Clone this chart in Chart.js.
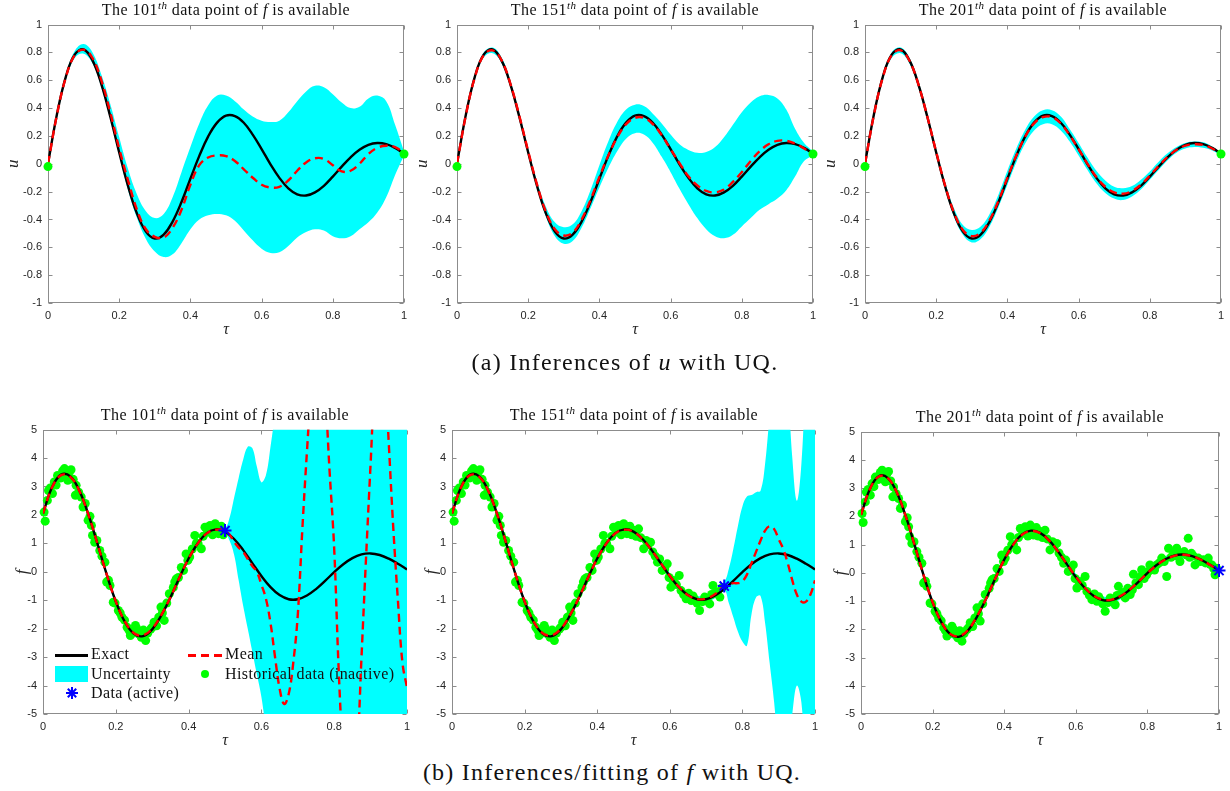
<!DOCTYPE html>
<html><head><meta charset="utf-8">
<script src="https://cdn.jsdelivr.net/npm/chart.js@4.4.1/dist/chart.umd.min.js"></script>
<style>
html,body{margin:0;padding:0;background:#fff;overflow:hidden;width:1230px;height:791px;}
#wrap{position:relative;width:1230px;height:791px;background:#fff;}
canvas{position:absolute;}
.ttl{position:absolute;font-family:"Liberation Serif",serif;font-size:16px;letter-spacing:0.45px;color:#111;white-space:nowrap;transform:translate(-50%,-50%);}
.ttl sup{font-size:11px;font-style:italic;line-height:0;}
.cap{position:absolute;font-family:"Liberation Serif",serif;font-size:24px;letter-spacing:1.25px;color:#111;white-space:nowrap;transform:translate(-50%,-50%);}
.lt{position:absolute;font-family:"Liberation Serif",serif;font-size:16px;letter-spacing:0.4px;color:#111;white-space:nowrap;transform:translateY(-50%);}
.sym{position:absolute;}
</style>
</head><body><div id="wrap"></div>
<script>
// ---------- data ----------
const tauGrid = [0,0.025,0.05,0.075,0.1,0.125,0.15,0.175,0.2,0.225,0.25,0.275,0.3,0.325,0.35,0.375,0.4,0.425,0.45,0.475,0.5,0.525,0.55,0.575,0.6,0.625,0.65,0.675,0.7,0.725,0.75,0.775,0.8,0.825,0.85,0.875,0.9,0.925,0.95,0.975,1];

const uExact = [0,0.354,0.625,0.784,0.821,0.743,0.571,0.338,0.081,-0.161,-0.358,-0.487,-0.537,-0.509,-0.415,-0.275,-0.107,0.057,0.197,0.296,0.346,0.343,0.295,0.210,0.106,-0.004,-0.101,-0.176,-0.219,-0.228,-0.205,-0.158,-0.092,-0.020,0.047,0.101,0.136,0.149,0.141,0.114,0.074];

const uMean101  = [0,0.35,0.62,0.78,0.82,0.76,0.60,0.37,0.11,-0.12,-0.33,-0.47,-0.525,-0.53,-0.46,-0.33,-0.15,-0.01,0.045,0.06,0.055,0.02,-0.04,-0.10,-0.15,-0.17,-0.165,-0.12,-0.05,0.01,0.04,0.035,-0.01,-0.055,-0.05,0.0,0.07,0.115,0.13,0.12,0.08];
const uUpper101 = [0.0,0.37,0.64,0.81,0.86,0.80,0.64,0.43,0.19,-0.04,-0.22,-0.34,-0.39,-0.36,-0.24,-0.06,0.12,0.29,0.42,0.49,0.49,0.45,0.39,0.34,0.31,0.30,0.31,0.37,0.45,0.52,0.56,0.55,0.50,0.44,0.40,0.41,0.47,0.49,0.45,0.28,0.09];
const uLower101 = [0.0,0.33,0.60,0.76,0.79,0.72,0.55,0.32,0.06,-0.19,-0.39,-0.54,-0.63,-0.67,-0.65,-0.57,-0.47,-0.40,-0.37,-0.36,-0.37,-0.41,-0.48,-0.55,-0.61,-0.64,-0.635,-0.59,-0.53,-0.49,-0.47,-0.48,-0.52,-0.535,-0.52,-0.47,-0.42,-0.35,-0.24,-0.08,0.06];

const uMean151  = [0,0.35,0.62,0.78,0.815,0.745,0.575,0.345,0.09,-0.15,-0.345,-0.47,-0.515,-0.495,-0.40,-0.26,-0.095,0.06,0.19,0.285,0.33,0.33,0.285,0.205,0.105,0.005,-0.09,-0.155,-0.195,-0.205,-0.185,-0.13,-0.06,0.02,0.09,0.14,0.165,0.165,0.145,0.11,0.07];
const uUpper151 = [0.0,0.36,0.635,0.80,0.835,0.765,0.595,0.365,0.11,-0.125,-0.31,-0.42,-0.455,-0.435,-0.34,-0.19,-0.01,0.16,0.30,0.39,0.425,0.415,0.36,0.29,0.21,0.14,0.10,0.08,0.085,0.12,0.19,0.28,0.37,0.44,0.485,0.495,0.47,0.39,0.25,0.15,0.09];
const uLower151 = [0.0,0.34,0.61,0.765,0.795,0.725,0.555,0.325,0.07,-0.175,-0.38,-0.52,-0.575,-0.555,-0.46,-0.32,-0.17,-0.03,0.09,0.18,0.22,0.21,0.15,0.05,-0.06,-0.18,-0.29,-0.39,-0.47,-0.52,-0.535,-0.51,-0.45,-0.39,-0.33,-0.29,-0.25,-0.19,-0.09,0.02,0.06];

const uMean201  = [0,0.35,0.62,0.78,0.815,0.74,0.57,0.34,0.085,-0.155,-0.35,-0.475,-0.52,-0.495,-0.405,-0.265,-0.10,0.06,0.195,0.29,0.335,0.335,0.29,0.205,0.105,0.0,-0.095,-0.165,-0.205,-0.215,-0.195,-0.15,-0.085,-0.015,0.05,0.10,0.13,0.14,0.135,0.11,0.07];
const uUpper201 = [0.0,0.365,0.64,0.80,0.835,0.76,0.59,0.36,0.105,-0.13,-0.32,-0.44,-0.475,-0.45,-0.36,-0.22,-0.05,0.11,0.245,0.34,0.385,0.385,0.34,0.25,0.15,0.045,-0.05,-0.12,-0.165,-0.175,-0.16,-0.115,-0.055,0.015,0.075,0.12,0.15,0.16,0.155,0.125,0.08];
const uLower201 = [0.0,0.335,0.60,0.76,0.795,0.72,0.55,0.32,0.065,-0.18,-0.38,-0.51,-0.565,-0.54,-0.45,-0.31,-0.15,0.01,0.145,0.24,0.285,0.285,0.24,0.16,0.06,-0.045,-0.14,-0.21,-0.25,-0.26,-0.235,-0.185,-0.115,-0.045,0.025,0.08,0.11,0.12,0.115,0.095,0.06];

const uDataTau = [0, 1];
const uDataVal = [-0.02, 0.07];

const fExact = [2.052,2.980,3.418,3.356,2.847,2.003,0.970,-0.094,-1.045,-1.762,-2.179,-2.260,-2.023,-1.534,-0.903,-0.198,0.466,0.997,1.359,1.492,1.414,1.154,0.762,0.306,-0.148,-0.539,-0.820,-0.965,-0.965,-0.834,-0.607,-0.319,-0.012,0.265,0.480,0.611,0.646,0.591,0.462,0.283,0.083];

const tauF101 = [0,0.025,0.05,0.075,0.1,0.125,0.15,0.175,0.2,0.225,0.25,0.275,0.3,0.325,0.35,0.375,0.4,0.425,0.45,0.475,0.5,
  0.5125,0.525,0.5375,0.55,0.5625,0.575,0.5875,0.6,0.6125,0.625,0.6375,0.65,0.6625,0.675,0.6875,0.7,0.7125,0.725,0.7375,0.75,
  0.7625,0.775,0.7875,0.8,0.8125,0.825,0.8375,0.85,0.8625,0.875,0.8875,0.9,0.9125,0.925,0.9375,0.95,0.9625,0.975,0.9875,1];
const fMean101 = [2.05,2.97,3.40,3.34,2.84,2.00,0.97,-0.09,-1.04,-1.75,-2.16,-2.23,-2.00,-1.52,-0.90,-0.20,0.46,0.99,1.35,1.48,1.45,
  1.30,1.05,0.85,0.70,0.45,0.20,0.0,-0.45,-0.95,-1.8,-3.0,-4.1,-4.65,-4.3,-3.2,-1.5,1.5,4.2,6.5,7.8,
  7.5,6.2,3.5,0.8,-3.5,-6.5,-8.0,-8.0,-6.5,-3.0,0.5,3.8,7.0,8.5,7.5,4.5,1.5,-1.0,-3.2,-4.07];
const fUpper101 = [2.15,3.08,3.52,3.46,2.95,2.10,1.07,0.01,-0.94,-1.65,-2.05,-2.12,-1.89,-1.41,-0.80,-0.10,0.56,1.09,1.45,1.58,1.55,
  1.9,2.6,3.3,3.95,4.4,4.35,3.7,3.15,3.4,4.4,5.6,7,12,12,12,12,12,12,12,12,
  12,12,12,12,12,12,12,12,12,12,12,12,12,12,12,12,12,12,12,12];
const fLower101 = [1.95,2.87,3.30,3.24,2.74,1.90,0.87,-0.19,-1.14,-1.85,-2.27,-2.34,-2.11,-1.62,-1.00,-0.30,0.36,0.89,1.25,1.38,1.35,
  1.1,0.6,-0.3,-1.2,-2.0,-2.8,-3.6,-4.4,-5.6,-7,-12,-12,-12,-12,-12,-12,-12,-12,-12,-12,
  -12,-12,-12,-12,-12,-12,-12,-12,-12,-12,-12,-12,-12,-12,-12,-12,-12,-12,-12,-12];

const tauF151 = [0,0.025,0.05,0.075,0.1,0.125,0.15,0.175,0.2,0.225,0.25,0.275,0.3,0.325,0.35,0.375,0.4,0.425,0.45,0.475,0.5,0.525,0.55,0.575,0.6,0.625,0.65,0.675,0.7,0.725,0.75,
  0.7625,0.775,0.7875,0.8,0.8125,0.825,0.8375,0.85,0.8625,0.875,0.8875,0.9,0.9125,0.925,0.9375,0.95,0.9625,0.975,0.9875,1];
const fMean151 = [2.05,2.97,3.40,3.34,2.84,2.00,0.97,-0.09,-1.04,-1.75,-2.16,-2.23,-2.00,-1.52,-0.90,-0.20,0.46,0.99,1.35,1.48,1.41,1.15,0.76,0.31,-0.14,-0.53,-0.82,-0.96,-0.94,-0.78,-0.50,
  -0.45,-0.40,-0.40,-0.33,-0.10,0.30,0.70,1.10,1.45,1.60,1.50,1.15,0.80,0.30,-0.30,-0.80,-1.05,-1.05,-0.80,-0.30];
const fUpper151 = [2.15,3.08,3.51,3.45,2.95,2.10,1.07,0.01,-0.94,-1.65,-2.05,-2.12,-1.89,-1.41,-0.80,-0.10,0.56,1.09,1.45,1.58,1.51,1.25,0.86,0.41,-0.04,-0.43,-0.71,-0.85,-0.82,-0.64,-0.35,
  0.10,0.80,1.60,2.30,2.65,2.70,2.80,2.85,3.80,5.50,7.0,8.0,8.0,6.5,4.0,2.5,3.8,7.0,9.0,10.0];
const fLower151 = [1.95,2.87,3.30,3.24,2.74,1.90,0.87,-0.19,-1.14,-1.85,-2.27,-2.34,-2.11,-1.62,-1.00,-0.30,0.36,0.89,1.25,1.38,1.31,1.05,0.66,0.21,-0.24,-0.63,-0.92,-1.07,-1.06,-0.92,-0.65,
  -1.10,-1.60,-2.10,-2.45,-2.60,-1.50,-0.90,-0.85,-1.80,-3.20,-4.60,-6.50,-8.0,-6.5,-5.0,-4.0,-4.6,-7.0,-9.0,-10.0];

const fMean201  = [2.05,2.97,3.41,3.35,2.85,2.00,0.97,-0.09,-1.04,-1.75,-2.17,-2.24,-2.01,-1.52,-0.90,-0.20,0.46,0.99,1.35,1.48,1.41,1.15,0.76,0.31,-0.14,-0.53,-0.81,-0.95,-0.95,-0.82,-0.60,-0.31,-0.01,0.26,0.47,0.60,0.64,0.59,0.46,0.28,0.08];
const fUpper201 = [2.15,3.08,3.52,3.46,2.96,2.10,1.07,0.01,-0.94,-1.65,-2.06,-2.13,-1.90,-1.41,-0.80,-0.10,0.56,1.09,1.46,1.59,1.52,1.26,0.87,0.42,-0.03,-0.42,-0.70,-0.84,-0.83,-0.70,-0.48,-0.19,0.11,0.38,0.59,0.72,0.76,0.71,0.58,0.39,0.16];
const fLower201 = [1.95,2.86,3.30,3.24,2.74,1.90,0.87,-0.19,-1.14,-1.85,-2.28,-2.35,-2.12,-1.63,-1.00,-0.30,0.36,0.89,1.24,1.37,1.30,1.04,0.65,0.20,-0.25,-0.64,-0.92,-1.06,-1.07,-0.94,-0.72,-0.43,-0.13,0.14,0.35,0.48,0.52,0.47,0.34,0.17,0.0];

const histTau = [
  0.003,0.006,0.012,0.015,0.020,0.026,0.031,0.036,0.040,0.048,
  0.054,0.059,0.064,0.068,0.072,0.077,0.083,0.089,0.091,0.098,
  0.105,0.110,0.116,0.124,0.129,0.133,0.136,0.142,0.148,0.156,
  0.162,0.170,0.175,0.180,0.184,0.193,0.198,0.207,0.212,0.217,
  0.224,0.231,0.236,0.240,0.247,0.254,0.258,0.263,0.270,0.276,
  0.282,0.288,0.296,0.300,0.305,0.312,0.318,0.324,0.328,0.333,
  0.340,0.347,0.362,0.358,0.366,0.372,0.380,0.386,0.393,0.398,
  0.403,0.410,0.417,0.421,0.426,0.435,0.440,0.445,0.452,0.459,
  0.466,0.473,0.478,0.482,0.490,0.495,0.500,0.507,0.514,0.520,
  0.528,0.535,0.540,0.547,0.553,0.560,0.566,0.572,0.579,0.586,
  0.593,0.598,0.603,0.608,0.612,0.618,0.626,0.631,0.638,0.645,
  0.652,0.659,0.664,0.668,0.675,0.682,0.690,0.696,0.703,0.710,
  0.715,0.719,0.726,0.732,0.738,0.745,0.752,0.758,0.761,0.768,
  0.775,0.780,0.784,0.791,0.798,0.803,0.807,0.815,0.820,0.826,
  0.833,0.840,0.847,0.854,0.859,0.866,0.873,0.878,0.882,0.891,
  0.896,0.903,0.910,0.914,0.918,0.923,0.928,0.933,0.942,0.948,
  0.956,0.962,0.970,0.975,0.980,0.985,0.989,0.993];
const histF = [
  2.10,1.78,2.51,2.86,2.95,2.75,3.16,3.05,3.39,3.30,
  3.55,3.63,3.40,3.22,3.50,3.59,3.25,2.69,3.04,2.80,
  2.63,2.28,2.40,1.81,1.95,1.63,1.28,1.04,1.10,0.75,
  0.55,0.34,-0.36,-0.30,-0.48,-1.07,-1.10,-1.36,-1.45,-1.60,
  -1.70,-1.95,-2.05,-2.24,-2.15,-1.89,-2.00,-2.18,-2.30,-2.05,
  -2.42,-2.15,-2.01,-1.95,-1.77,-1.90,-1.60,-1.24,-1.45,-1.71,
  -1.10,-0.77,-0.36,-0.55,-0.25,-0.20,0.15,0.05,0.63,0.40,
  0.52,0.80,1.28,1.00,0.99,0.81,1.25,1.57,1.40,1.63,
  1.30,1.69,1.55,1.34,1.60,1.30,1.46,1.25,1.51,1.20,
  0.81,1.10,0.95,1.04,0.70,0.55,0.34,0.45,0.05,0.10,
  0.28,-0.20,-0.54,-0.30,-0.36,-0.45,-0.13,-0.66,-0.80,-0.95,
  -0.75,-1.01,-0.85,-0.95,-1.10,-1.36,-1.05,-0.89,-1.00,-1.13,
  -0.80,-0.48,-0.75,-0.70,-0.89,-0.55,-0.77,-0.60,-0.05,-0.35,
  -0.42,-0.15,0.11,-0.20,-0.07,0.05,0.28,0.15,0.10,0.28,
  0.35,0.52,0.40,-0.13,0.87,0.55,0.69,0.60,0.87,0.40,
  0.69,0.75,0.63,1.22,0.55,0.69,0.60,0.28,0.52,0.40,
  0.46,0.35,0.52,0.30,0.28,0.15,-0.07,0.16];

const activeTau = [0.5, 0.75, 1.0];
const activeF   = [1.45, -0.5, 0.08];

const xTicks = [0, 0.2, 0.4, 0.6, 0.8, 1];

// ---------- helpers ----------
const wrap = document.getElementById('wrap');
const pts = (t, v) => t.map((x, i) => ({x: x, y: v[i]}));
const fmt = v => String(Math.round(v * 100) / 100);
const CYAN = '#00ffff', GREEN = '#00ff00', RED = '#ff0000', BLUE = '#0000ff';

const boxPlugin = {
  id: 'mbox',
  beforeDatasetsDraw(chart) {
    const {ctx, chartArea: a, scales: {x, y}} = chart;
    ctx.save();
    ctx.strokeStyle = '#8c8c8c'; ctx.lineWidth = 1;
    const L = Math.round(a.left) + 0.5, R = Math.round(a.right) - 0.5;
    const T = Math.round(a.top) + 0.5, B = Math.round(a.bottom) - 0.5;
    ctx.strokeRect(L, T, R - L, B - T);
    ctx.beginPath();
    x.ticks.forEach(t => { const p = Math.round(x.getPixelForValue(t.value)) + 0.5;
      ctx.moveTo(p, B); ctx.lineTo(p, B - 4); ctx.moveTo(p, T); ctx.lineTo(p, T + 4); });
    y.ticks.forEach(t => { const p = Math.round(y.getPixelForValue(t.value)) + 0.5;
      ctx.moveTo(L, p); ctx.lineTo(L + 4, p); ctx.moveTo(R, p); ctx.lineTo(R - 4, p); });
    ctx.stroke();
    ctx.restore();
  }
};

function lineDS(data, color, dash, w) {
  return {data, borderColor: color, borderWidth: w || 2.4, borderDash: dash || [], pointRadius: 0,
          tension: 0.4, fill: false, showLine: true};
}
function bandDS(upper, lower) {
  return [
    {data: upper, borderColor: 'rgba(0,0,0,0)', borderWidth: 0, pointRadius: 0, tension: 0.4,
     backgroundColor: CYAN, fill: '+1', showLine: true},
    {data: lower, borderColor: 'rgba(0,0,0,0)', borderWidth: 0, pointRadius: 0, tension: 0.4,
     fill: false, showLine: true}
  ];
}
function dotDS(data, r) {
  return {data, showLine: false, pointRadius: r || 4.5, pointBackgroundColor: GREEN, pointBorderWidth: 0,
          pointBorderColor: GREEN, clip: false};
}
function starDS(data) {
  return {data, showLine: false, pointStyle: 'star', pointRadius: 6.5, pointBorderColor: BLUE,
          pointBorderWidth: 2, pointBackgroundColor: BLUE, clip: false};
}

function panel(area, W, ylab, ymin, ymax, ystep, datasets) {
  const PT = 10, PR = 12, H = 36;
  const cw = W + (area.r - area.l) + PR, ch = PT + (area.b - area.t) + H;
  const c = document.createElement('canvas');
  c.width = cw; c.height = ch;
  c.style.left = (area.l - W) + 'px'; c.style.top = (area.t - PT) + 'px';
  c.style.width = cw + 'px'; c.style.height = ch + 'px';
  wrap.appendChild(c);
  new Chart(c, {
    type: 'line',
    data: {datasets},
    options: {
      responsive: false, animation: false, devicePixelRatio: 1, events: [],
      layout: {padding: {left: 0, top: PT, right: PR, bottom: 0}},
      plugins: {legend: {display: false}, tooltip: {enabled: false}},
      scales: {
        x: {type: 'linear', min: 0, max: 1,
            grid: {display: false, drawTicks: false}, border: {display: false},
            afterBuildTicks: s => { s.ticks = xTicks.map(v => ({value: v})); },
            ticks: {padding: 6, color: '#262626', font: {family: 'Liberation Sans', size: 11},
                    callback: fmt, maxRotation: 0, autoSkip: false},
            title: {display: true, text: 'τ', color: '#262626', padding: 0,
                    font: {family: 'Liberation Serif', size: 16, style: 'italic'}},
            afterFit: s => { s.height = H; }},
        y: {type: 'linear', min: ymin, max: ymax,
            grid: {display: false, drawTicks: false}, border: {display: false},
            ticks: {stepSize: ystep, padding: 6, color: '#262626', font: {family: 'Liberation Sans', size: 11},
                    callback: fmt, autoSkip: false},
            title: {display: true, text: ylab, color: '#262626', padding: 0,
                    font: {family: 'Liberation Serif', size: 17, style: 'italic'}},
            afterFit: s => { s.width = W; }}
      }
    },
    plugins: [boxPlugin]
  });
}

function uPanel(area, mean, upper, lower) {
  panel(area, 45, 'u', -1, 1, 0.2, [
    dotDS(pts(uDataTau, uDataVal), 4.5),
    lineDS(pts(tauGrid, mean), RED, [8, 5]),
    lineDS(pts(tauGrid, uExact), '#000000'),
    ...bandDS(pts(tauGrid, upper), pts(tauGrid, lower))
  ]);
}
function fPanel(area, k, tau, mean, upper, lower) {
  const limit = activeTau[k];
  const ht = [], hv = [];
  histTau.forEach((t, i) => { if (t < limit) { ht.push(t); hv.push(histF[i]); } });
  panel(area, 31, 'f', -5, 5, 1, [
    starDS([{x: activeTau[k], y: activeF[k]}]),
    lineDS(pts(tau, mean), RED, [8, 5]),
    lineDS(pts(tauGrid, fExact), '#000000'),
    dotDS(pts(ht, hv), 4.5),
    ...bandDS(pts(tau, upper), pts(tau, lower))
  ]);
}

uPanel({l: 48, t: 22, r: 404, b: 303}, uMean101, uUpper101, uLower101);
uPanel({l: 457, t: 22, r: 813, b: 303}, uMean151, uUpper151, uLower151);
uPanel({l: 865, t: 22, r: 1221, b: 303}, uMean201, uUpper201, uLower201);
fPanel({l: 43, t: 427, r: 407, b: 714}, 0, tauF101, fMean101, fUpper101, fLower101);
fPanel({l: 452, t: 427, r: 815, b: 714}, 1, tauF151, fMean151, fUpper151, fLower151);
fPanel({l: 861, t: 429, r: 1219, b: 714}, 2, tauGrid, fMean201, fUpper201, fLower201);

// ---------- text ----------
function addText(cls, html, x, y) {
  const d = document.createElement('div');
  d.className = cls; d.innerHTML = html;
  d.style.left = x + 'px'; d.style.top = y + 'px';
  wrap.appendChild(d);
}
const titles = [['101', 226, 10], ['151', 635, 10], ['201', 1043, 10], ['101', 225, 415], ['151', 634, 415], ['201', 1040, 417]];
titles.forEach(([n, x, y]) => addText('ttl', 'The ' + n + '<sup>th</sup> data point of <i>f</i> is available', x, y));
addText('cap', '(a) Inferences of <i>u</i> with UQ.', 625, 362);
addText('cap', '(b) Inferences/fitting of <i>f</i> with UQ.', 612, 772);

// legend (panel b1)
function addSym(style) { const d = document.createElement('div'); d.className = 'sym'; Object.assign(d.style, style); wrap.appendChild(d); }
addSym({left: '55px', top: '654px', width: '33px', height: '2.5px', background: '#000'});
addSym({left: '188px', top: '654px', width: '34px', height: '2.5px',
        background: 'repeating-linear-gradient(90deg,#ff0000 0 8px,transparent 8px 13px)'});
addSym({left: '55px', top: '666px', width: '33px', height: '16px', background: CYAN});
addSym({left: '201px', top: '670px', width: '8px', height: '8px', borderRadius: '50%', background: GREEN});
const starSvg = document.createElementNS('http://www.w3.org/2000/svg', 'svg');
starSvg.setAttribute('width', '14'); starSvg.setAttribute('height', '14');
starSvg.style.position = 'absolute'; starSvg.style.left = '65px'; starSvg.style.top = '686px';
starSvg.innerHTML = '<g stroke="#0000ff" stroke-width="2"><line x1="7" y1="1" x2="7" y2="13"/><line x1="1" y1="7" x2="13" y2="7"/><line x1="2.8" y1="2.8" x2="11.2" y2="11.2"/><line x1="2.8" y1="11.2" x2="11.2" y2="2.8"/></g>';
wrap.appendChild(starSvg);
addText('lt', 'Exact', 91, 654);
addText('lt', 'Mean', 225, 654);
addText('lt', 'Uncertainty', 91, 674);
addText('lt', 'Historical data (inactive)', 225, 674);
addText('lt', 'Data (active)', 91, 693);
</script>
</body></html>
